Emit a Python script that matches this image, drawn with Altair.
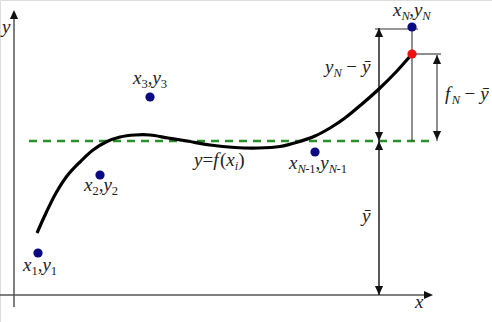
import altair as alt
import pandas as pd

W, H = 492, 322

# ---- data (diagram coordinates, origin top-left) ----
curve_x = [37, 46, 56, 67, 80, 93, 106, 120, 135, 150, 168, 187, 210, 235, 258, 280, 298, 315, 330, 345, 362, 380, 396, 412]
curve_y = [233, 213, 193, 176, 162, 150, 142, 137, 135, 135, 138, 141, 145, 147.5, 148, 146.5, 142, 136, 128, 118, 104, 88, 72, 54]

obs_x = [38, 100, 150, 315, 412]
obs_y = [253, 175, 97, 152, 27]

fit_x = [412]
fit_y = [54]

mean_y = 141
mean_x0, mean_x1 = 29, 432

# ---- helpers ----
xs = alt.Scale(domain=[0, W])
ys = alt.Scale(domain=[H, 0])

def X(f):
    return alt.X(f"{f}:Q", scale=xs, axis=None)

def Y(f):
    return alt.Y(f"{f}:Q", scale=ys, axis=None)

# segments: x, y, x2, y2
axis_segs = pd.DataFrame({"x": [14, 0], "y": [307, 295], "x2": [14, 426], "y2": [18, 295]})
dim_segs = pd.DataFrame({"x": [379], "y": [28], "x2": [379], "y2": [295]})
thin_segs = pd.DataFrame({
    "x": [412, 375, 412, 437],
    "y": [27, 29, 54, 55],
    "x2": [412, 418, 441, 437],
    "y2": [141, 29, 54, 141],
})
heads = pd.DataFrame({
    "x": [14, 433, 379, 379, 379, 379, 437, 437],
    "y": [10, 295, 28, 141, 141, 295, 55, 140],
    "d": ["up", "right", "up", "down", "up", "down", "up", "down"],
})
head_paths = {
    "up": "M0,0L-0.45,1L0.45,1Z",
    "down": "M0,0L-0.45,-1L0.45,-1Z",
    "right": "M0,0L-1,-0.45L-1,0.45Z",
}

# rich-text labels: (text, italic, subscript); ("", None, gap_px) is a horizontal gap
I, R = True, False
labels = [
    (23, 271, [("x", I, 0), ("1", R, 1), (",", R, 0), ("y", I, 0), ("1", R, 1)]),
    (84, 191, [("x", I, 0), ("2", R, 1), (",", R, 0), ("y", I, 0), ("2", R, 1)]),
    (133, 84, [("x", I, 0), ("3", R, 1), (",", R, 0), ("y", I, 0), ("3", R, 1)]),
    (289, 169, [("x", I, 0), ("N", I, 1), ("-1", R, 1), (",", R, 0), ("y", I, 0), ("N", I, 1), ("-1", R, 1)]),
    (393, 16, [("x", I, 0), ("N", I, 1), (",", R, 0), ("y", I, 0), ("N", I, 1)]),
    (194, 166, [("y", I, 0), ("=", R, 0), ("f", I, 0), ("(", R, 0), ("x", I, 0), ("i", I, 1), (")", R, 0)]),
    (325, 73, [("y", I, 0), ("N", I, 1), ("", None, 5), ("\u2212", R, 0), ("", None, 5), ("\u0233", I, 0)]),
    (445, 100, [("f", I, 0), ("N", I, 1), ("", None, 5), ("\u2212", R, 0), ("", None, 5), ("\u0233", I, 0)]),
    (362, 222, [("\u0233", I, 0)]),
    (2, 33, [("y", I, 0)]),
    (415, 308, [("x", I, 0)]),
]
widths = {"x": .444, "y": .444, "N": .62, "f": .36, "i": .278, "1": .5, "2": .5, "3": .5,
          ",": .25, "-": .333, "=": .564, "(": .333, ")": .333, "\u2212": .564, "\u0233": .444}
FS_MAIN, FS_SUB = 19, 12.5
rows = []
for lx, by, segs in labels:
    cx = lx
    for txt, ital, sub in segs:
        if ital is None:
            cx += sub
            continue
        fs = FS_SUB if sub else FS_MAIN
        rows.append({"x": cx, "y": by + (4 if sub else 0), "t": txt,
                     "k": ("i" if ital else "r") + ("s" if sub else "m")})
        cx += sum(widths.get(c, .5) for c in txt) * fs
text_df = pd.DataFrame(rows)

# ---- layers ----
mean_line = alt.Chart(pd.DataFrame({"x": [mean_x0], "x2": [mean_x1], "y": [mean_y]})).mark_rule(
    color="#2b8f2b", strokeWidth=2.5, strokeDash=[8, 6]).encode(x=X("x"), x2="x2", y=Y("y"))

axes = alt.Chart(axis_segs).mark_rule(color="#555555", strokeWidth=1.5).encode(
    x=X("x"), y=Y("y"), x2="x2", y2="y2")
dims = alt.Chart(dim_segs).mark_rule(color="#222222", strokeWidth=1.5).encode(
    x=X("x"), y=Y("y"), x2="x2", y2="y2")
thins = alt.Chart(thin_segs).mark_rule(color="#333333", strokeWidth=1.1).encode(
    x=X("x"), y=Y("y"), x2="x2", y2="y2")

arrowheads = alt.Chart(heads).mark_point(filled=True, opacity=1, strokeWidth=0, size=324, color="#111111").encode(
    x=X("x"), y=Y("y"),
    shape=alt.Shape("d:N", scale=alt.Scale(domain=list(head_paths.keys()), range=list(head_paths.values())),
                    legend=None))

curve = alt.Chart(pd.DataFrame({"x": curve_x, "y": curve_y})).mark_line(
    color="black", strokeWidth=3.2, interpolate="catmull-rom").encode(x=X("x"), y=Y("y"), order="x:Q")

obs = alt.Chart(pd.DataFrame({"x": obs_x, "y": obs_y})).mark_circle(
    size=85, color="#0a0a82", opacity=1).encode(x=X("x"), y=Y("y"))
fit = alt.Chart(pd.DataFrame({"x": fit_x, "y": fit_y})).mark_circle(
    size=85, color="#ee1111", opacity=1).encode(x=X("x"), y=Y("y"))

def text_layer(kind, size, style):
    return alt.Chart(text_df).transform_filter(alt.datum.k == kind).mark_text(
        align="left", baseline="alphabetic", font="Liberation Serif", fontSize=size,
        fontStyle=style, color="#222222").encode(x=X("x"), y=Y("y"), text="t:N")

texts = [text_layer("im", FS_MAIN, "italic"), text_layer("is", FS_SUB, "italic"),
         text_layer("rm", FS_MAIN, "normal"), text_layer("rs", FS_SUB, "normal")]

chart = alt.layer(mean_line, axes, thins, dims, curve, arrowheads, obs, fit, *texts).properties(
    width=W, height=H, padding=0, autosize=alt.AutoSizeParams(type="none")
).configure_view(stroke=None).configure(background="white")

chart.save("out.html", embed_options={"renderer": "svg", "actions": False})
